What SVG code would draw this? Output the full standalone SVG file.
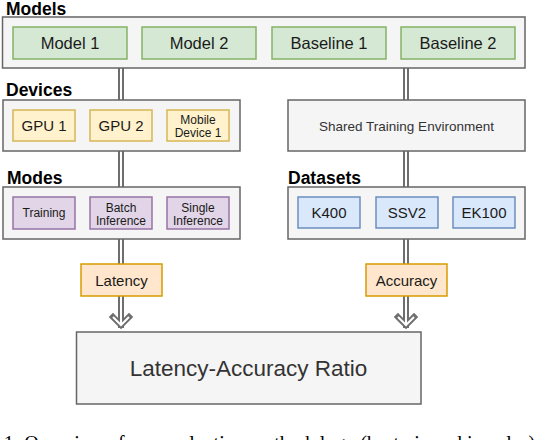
<svg xmlns="http://www.w3.org/2000/svg" width="556" height="440" viewBox="0 0 556 440">
<style>
.lbl{font-family:"Liberation Sans",Arial,sans-serif;font-weight:bold;font-size:17.5px;fill:#000}
.t{font-family:"Liberation Sans",Arial,sans-serif;fill:#1a1a1a;text-anchor:middle}
.cont{fill:#f5f5f5;stroke:#666;stroke-width:1.5}
.green{fill:#d5e8d4;stroke:#82b366;stroke-width:1.5}
.yellow{fill:#fff2cc;stroke:#d6b656;stroke-width:1.5}
.purple{fill:#e1d5e7;stroke:#9673a6;stroke-width:1.5}
.blue{fill:#dae8fc;stroke:#6c8ebf;stroke-width:1.5}
.orange{fill:#ffe6cc;stroke:#d79b00;stroke-width:1.5}
.lo{fill:none;stroke:#6e6e6e;stroke-width:6;stroke-linejoin:miter;stroke-linecap:square}
.li{fill:none;stroke:#fff;stroke-width:2;stroke-linejoin:miter;stroke-linecap:butt}
</style>
<g id="connectors">
<path class="lo" d="M121,68V100M121,151V187M121,239V264M121,296V325M113,317L121,325L129,317"/>
<path class="li" d="M121,68V100M121,151V187M121,239V264M121,296V325M113,317L121,325L129,317"/>
<path class="lo" d="M406,68V100M406,151V187M406,239V264M406,296V325M398,317L406,325L414,317"/>
<path class="li" d="M406,68V100M406,151V187M406,239V264M406,296V325M398,317L406,325L414,317"/>
</g>
<g id="models">
<text class="lbl" x="6" y="14.5">Models</text>
<rect class="cont" x="2.5" y="17" width="522.5" height="51"/>
<g id="model1"><rect class="green" x="13" y="27" width="114" height="32"/><text class="t" x="70" y="49" font-size="16.5">Model 1</text></g>
<g id="model2"><rect class="green" x="142" y="27" width="114" height="32"/><text class="t" x="199" y="49" font-size="16.5">Model 2</text></g>
<g id="baseline1"><rect class="green" x="272" y="27" width="114" height="32"/><text class="t" x="329" y="49" font-size="16.5">Baseline 1</text></g>
<g id="baseline2"><rect class="green" x="401" y="27" width="114" height="32"/><text class="t" x="458" y="49" font-size="16.5">Baseline 2</text></g>
</g>
<g id="devices">
<text class="lbl" x="6" y="96">Devices</text>
<rect class="cont" x="3" y="100" width="237" height="51"/>
<g id="gpu1"><rect class="yellow" x="13" y="110" width="62" height="31"/><text class="t" x="44" y="131" font-size="15">GPU 1</text></g>
<g id="gpu2"><rect class="yellow" x="90" y="110" width="62" height="31"/><text class="t" x="121" y="131" font-size="15">GPU 2</text></g>
<g id="mobile"><rect class="yellow" x="167" y="110" width="62" height="31"/><text class="t" x="198" y="124" font-size="12">Mobile</text><text class="t" x="198" y="137" font-size="12">Device 1</text></g>
</g>
<g id="shared">
<rect class="cont" x="288" y="100" width="237" height="51"/>
<text class="t" x="406.5" y="131" font-size="13.5" style="fill:#333">Shared Training Environment</text>
</g>
<g id="modes">
<text class="lbl" x="7" y="184">Modes</text>
<rect class="cont" x="3" y="187" width="237" height="52"/>
<g id="training"><rect class="purple" x="13" y="197" width="62" height="32"/><text class="t" x="44" y="217" font-size="12">Training</text></g>
<g id="batch"><rect class="purple" x="90" y="197" width="62" height="32"/><text class="t" x="121" y="211.5" font-size="12">Batch</text><text class="t" x="121" y="225" font-size="12">Inference</text></g>
<g id="single"><rect class="purple" x="167" y="197" width="62" height="32"/><text class="t" x="198" y="211.5" font-size="12">Single</text><text class="t" x="198" y="225" font-size="12">Inference</text></g>
</g>
<g id="datasets">
<text class="lbl" x="288" y="184">Datasets</text>
<rect class="cont" x="288" y="187" width="237" height="52"/>
<g id="k400"><rect class="blue" x="298" y="197" width="62" height="31"/><text class="t" x="329" y="218" font-size="15">K400</text></g>
<g id="ssv2"><rect class="blue" x="376" y="197" width="62" height="31"/><text class="t" x="407" y="218" font-size="15">SSV2</text></g>
<g id="ek100"><rect class="blue" x="453" y="197" width="62" height="31"/><text class="t" x="484" y="218" font-size="15">EK100</text></g>
</g>
<g id="latency"><rect class="orange" x="81" y="264" width="81" height="32"/><text class="t" x="121.5" y="285.5" font-size="15">Latency</text></g>
<g id="accuracy"><rect class="orange" x="366" y="264" width="81" height="32"/><text class="t" x="406.5" y="285.5" font-size="15">Accuracy</text></g>
<g id="ratio"><rect class="cont" x="76.5" y="332" width="344.5" height="72"/><text class="t" x="248.5" y="376" font-size="22.5" style="fill:#333">Latency-Accuracy Ratio</text></g>
<text x="3.7" y="449.5" font-family="'Liberation Serif','Times New Roman',serif" font-size="20" fill="#000">1: Overview of our evaluation methodology (best viewed in color).</text>
</svg>
